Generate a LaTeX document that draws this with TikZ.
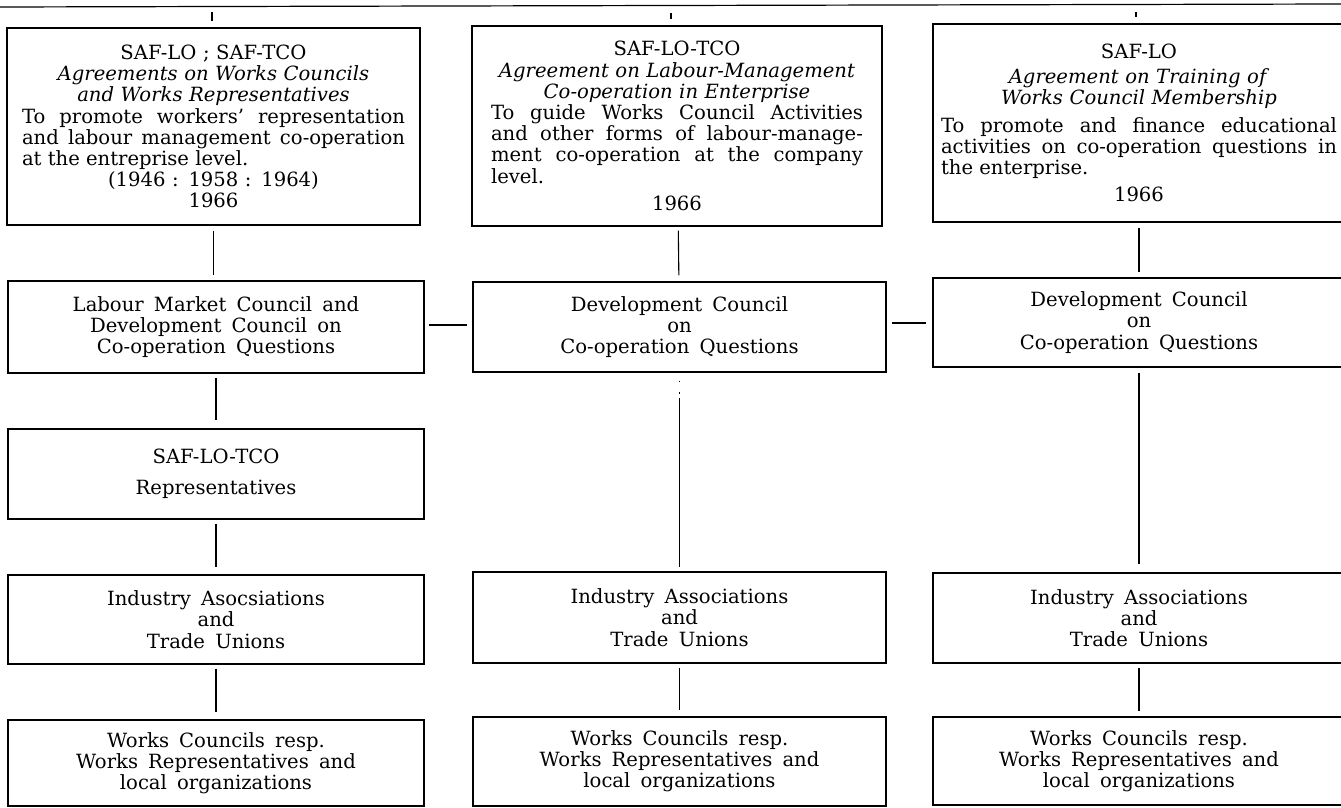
\documentclass[tikz,border=0pt]{standalone}
\usepackage{fontspec}
\setmainfont{DejaVu Serif}
\usetikzlibrary{positioning,calc}
\newcommand{\bodyfont}{\fontsize{9.8}{10.6}\selectfont}
\newcommand{\jline}[1]{\makebox[\hsize][s]{\spaceskip=0pt\xspaceskip=0pt\relax #1}}
\newcommand{\lline}[1]{\makebox[\hsize][l]{\spaceskip=0pt\xspaceskip=0pt\relax #1}}
\tikzset{
  box/.style  = {draw, line width=0.6pt, inner sep=0pt, align=center,
                 font=\bodyfont},
  lowbox/.style = {box, text width=190pt,
                 execute at begin node={\spaceskip=.52em\relax}},
  link/.style = {line width=0.55pt, shorten <=2.5pt, shorten >=2.5pt}
}

\begin{document}
\begin{tikzpicture}[x=0.5pt, y=-0.5pt]
\useasboundingbox (0,0) rectangle (1341,808);

%% top rule
\coordinate (ruleL) at (0,7);
\coordinate (ruleR) at (1341,4);
\draw[line width=0.6pt] (ruleL) -- (ruleR);
\coordinate (tick1) at (212,12);
\coordinate (tick2) at (671,13);
\coordinate (tick3) at (1136,12);

%% agreements
\node[box, minimum width=206.5pt, minimum height=98.5pt, text width=191.5pt]
  (agr1) at (213.5,126.5)
  {SAF-LO ; SAF-TCO\\
   \textit{Agreements on Works Councils}\\
   \textit{and Works Representatives}\\
   \jline{To promote workers’ representation}\\
   \jline{and labour management co-operation}\\
   \lline{at the entreprise level.}\\
   (1946 : 1958 : 1964)\\
   1966};
\node[box, minimum width=205pt, minimum height=100pt, text width=186pt]
  (agr2) at (677,126)
  {SAF-LO-TCO\\
   \textit{Agreement on Labour-Management}\\
   \textit{Co-operation in Enterprise}\\
   \jline{To guide Works Council Activities}\\
   \jline{and other forms of labour-manage-}\\
   \jline{ment co-operation at the company}\\
   \lline{level.}\\[3pt]
   1966};
\node[box, minimum width=206pt, minimum height=99pt, text width=198pt]
  (agr3) at (1139,123)
  {SAF-LO\\[2pt]
   \textit{Agreement on Training of}\\
   \textit{Works Council Membership}\\[3pt]
   \jline{To promote and finance educational}\\
   \jline{activities on co-operation questions in}\\
   \lline{the enterprise.}\\[3pt]
   1966};

%% councils
\node[lowbox, minimum width=208pt, minimum height=46pt]   (dev1) at (216,327)
  {Labour Market Council and\\ Development Council on\\ Co-operation Questions};
\node[lowbox, minimum width=206.5pt, minimum height=45pt] (dev2) at (679.5,327)
  {Development Council\\ on\\ Co-operation Questions};
\node[lowbox, minimum width=206pt, minimum height=44.5pt] (dev3) at (1139,322.5)
  {Development Council\\ on\\ Co-operation Questions};

%% representatives
\node[lowbox, minimum width=208pt, minimum height=45pt]   (rep)  at (216,474)
  {SAF-LO-TCO\\[5pt] Representatives};

%% associations
\node[lowbox, minimum width=208pt, minimum height=44.5pt] (ind1) at (216,619.5)
  {Industry Asocsiations\\ and\\ Trade Unions};
\node[lowbox, minimum width=206.5pt, minimum height=45.5pt] (ind2) at (679.5,617.5)
  {Industry Associations\\ and\\ Trade Unions};
\node[lowbox, minimum width=206pt, minimum height=45pt]   (ind3) at (1139,618)
  {Industry Associations\\ and\\ Trade Unions};

%% works councils
\node[lowbox, minimum width=208pt, minimum height=43pt]   (wc1) at (216,763)
  {Works Councils resp.\\ Works Representatives and\\ local organizations};
\node[lowbox, minimum width=206.5pt, minimum height=44.5pt] (wc2) at (679.5,761.5)
  {Works Councils resp.\\ Works Representatives and\\ local organizations};
\node[lowbox, minimum width=206pt, minimum height=44pt]   (wc3) at (1139,761)
  {Works Councils resp.\\ Works Representatives and\\ local organizations};

%% ticks from rule
\draw[link, shorten <=0pt, shorten >=3pt] (tick1) -- (tick1 |- agr1.north);
\draw[link, shorten <=0pt, shorten >=3pt] (tick2) -- (tick2 |- agr2.north);
\draw[link, shorten <=0pt, shorten >=3pt] (tick3) -- (tick3 |- agr3.north);

%% left column
\draw[link] (agr1) -- (agr1 |- dev1.north);
\draw[link, shorten <=2pt, shorten >=4pt] (dev1) -- (rep);
\draw[link, shorten <=2pt, shorten >=3.5pt] (rep) -- (ind1);
\draw[link, shorten <=2pt, shorten >=3.5pt] (ind1) -- (wc1);

%% middle column
\draw[link, shorten <=2pt, shorten >=3pt] (agr2) -- (dev2);
\draw[link, shorten <=4pt, shorten >=2pt,
      dash pattern=on 0.75pt off 5pt on 0.75pt off 2.25pt on 120pt off 0pt]
  (dev2) -- (ind2);
\draw[link, shorten <=2pt, shorten >=3pt] (ind2) -- (wc2);

%% right column
\draw[link] (agr3) -- (dev3);
\draw[link, shorten <=2.5pt, shorten >=4pt] (dev3) -- (ind3);
\draw[link, shorten <=2pt, shorten >=2.5pt] (ind3) -- (wc3);

%% across
\draw[link, shorten <=2pt, shorten >=2.5pt] (dev1.east |- 0,325) -- (dev2.west |- 0,325);
\draw[link, shorten <=2.5pt, shorten >=3pt] (dev2.east |- 0,323) -- (dev3.west |- 0,323);

\end{tikzpicture}
\end{document}
